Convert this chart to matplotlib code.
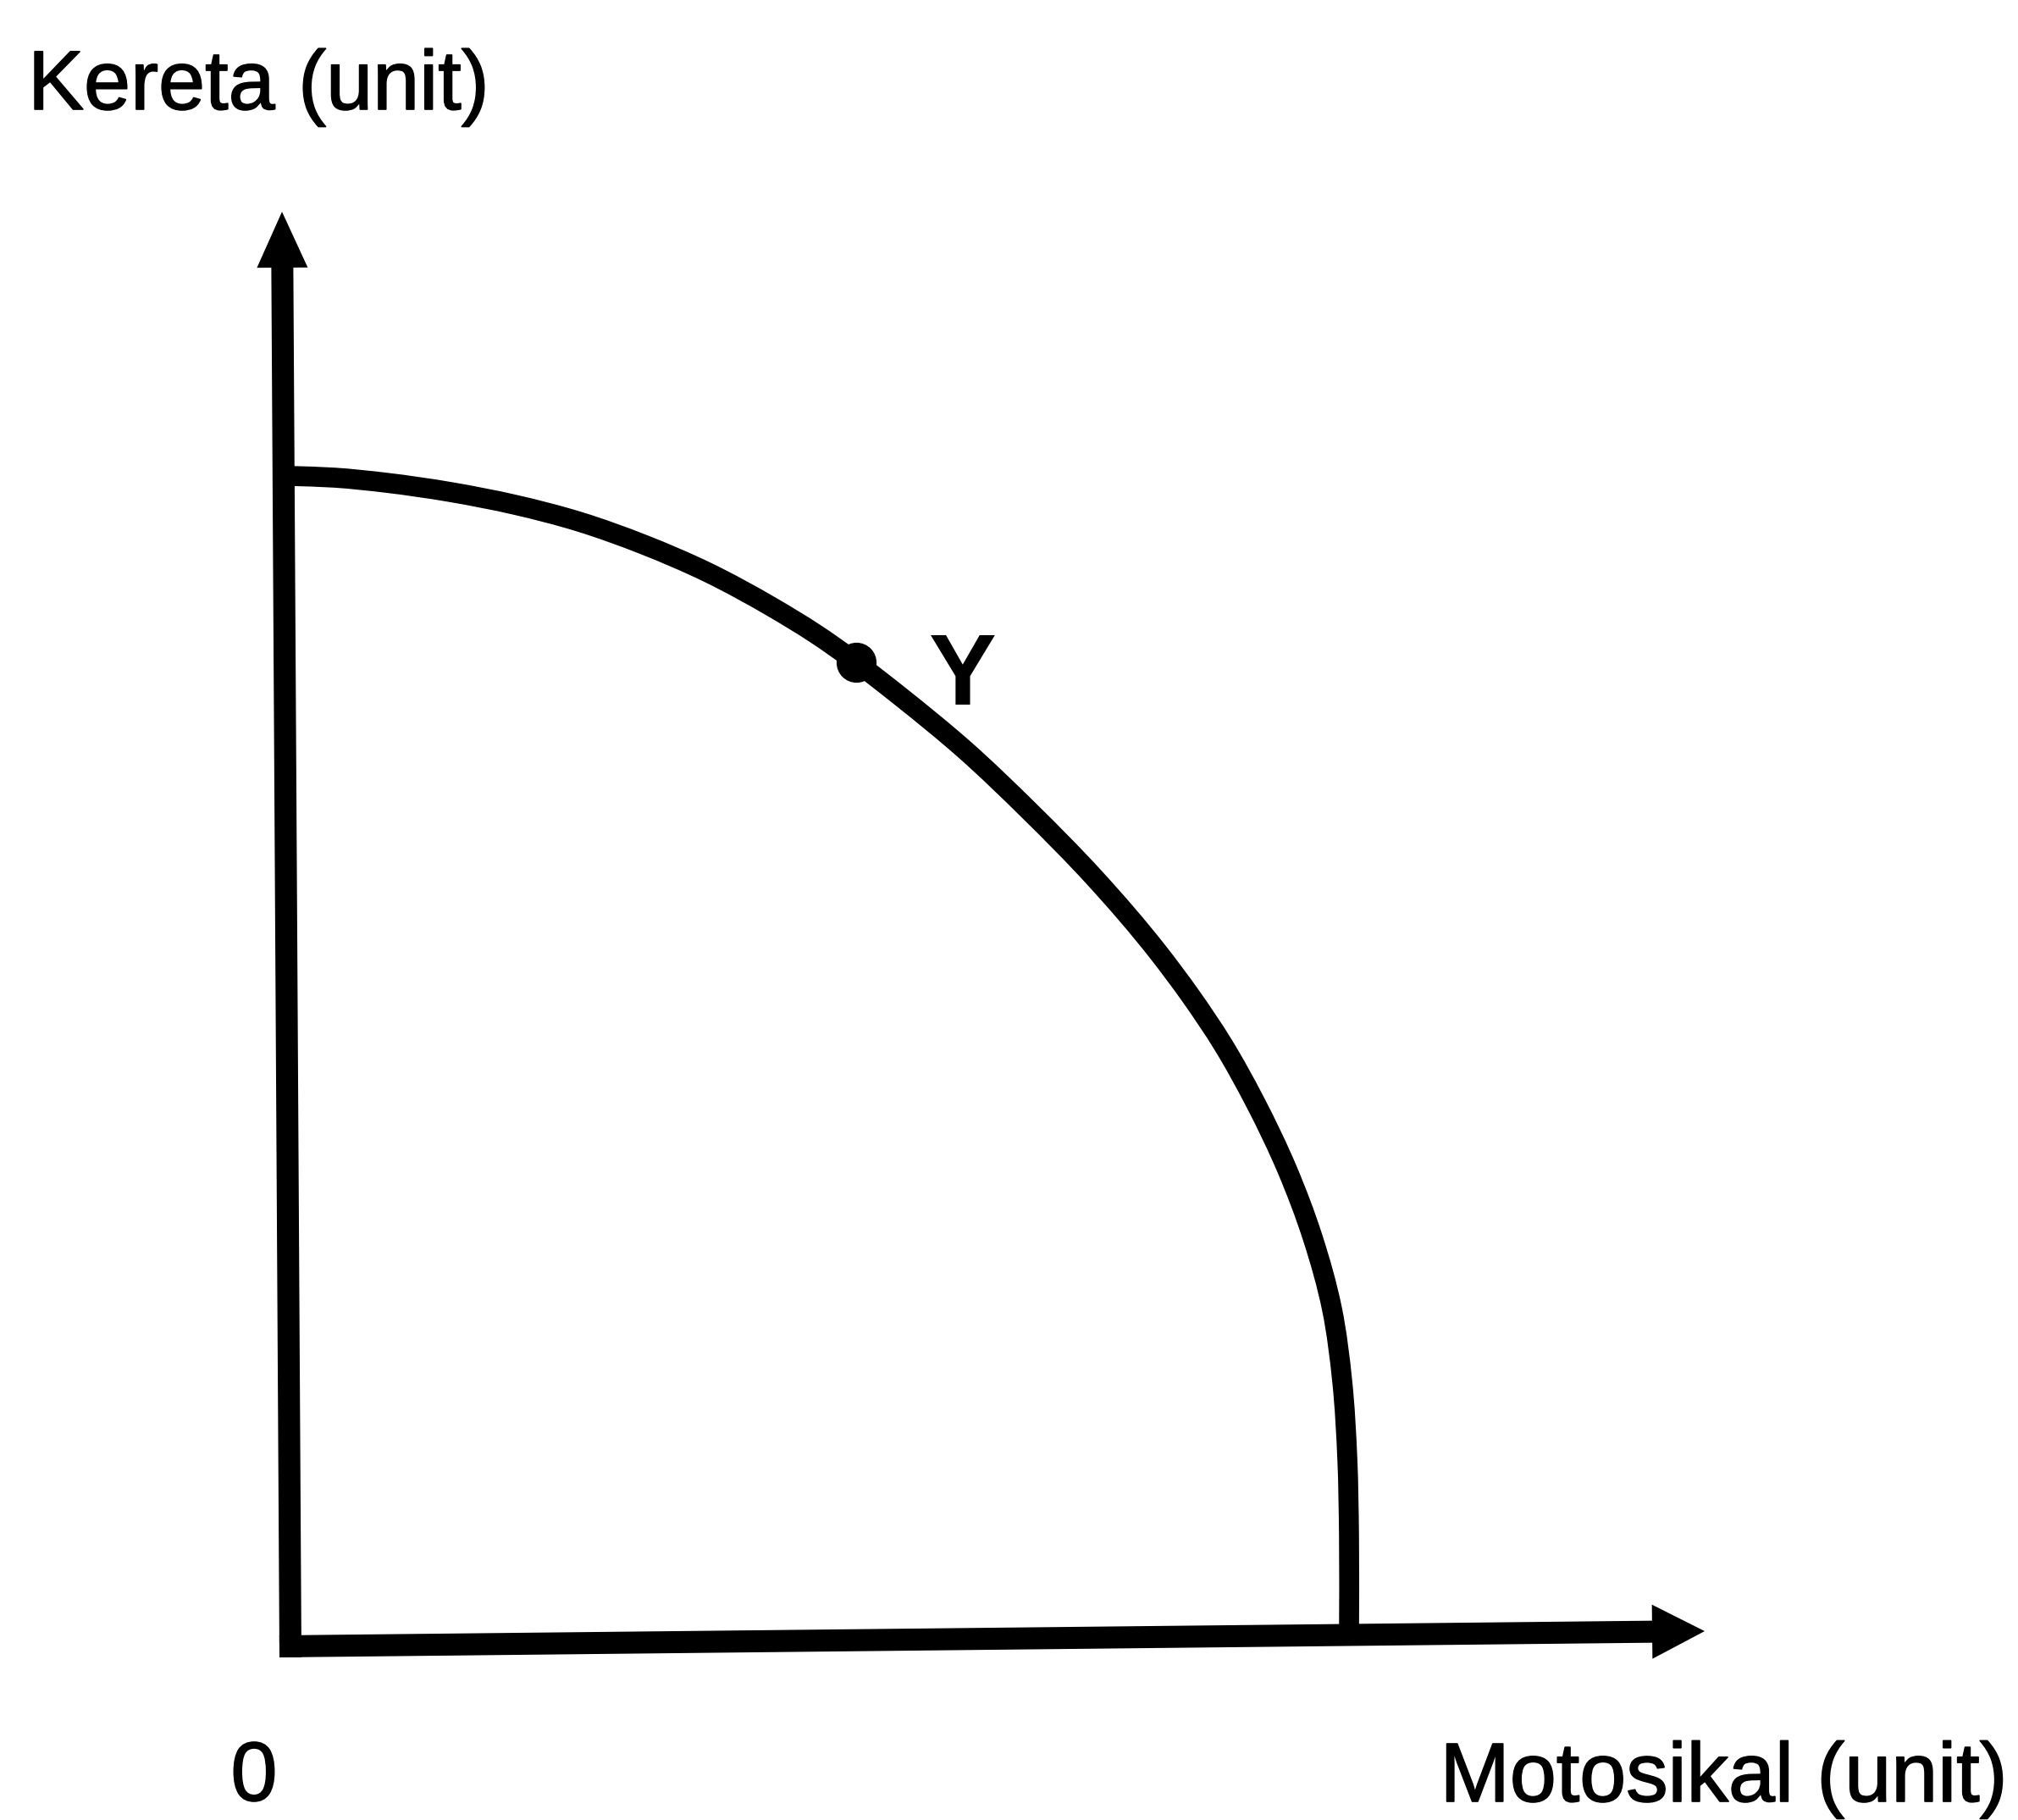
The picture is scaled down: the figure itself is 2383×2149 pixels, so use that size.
import matplotlib
matplotlib.use("Agg")
import matplotlib.pyplot as plt
import matplotlib.patheffects as pe
import numpy as np
from matplotlib.path import Path
from matplotlib.patches import PathPatch

# Production possibility curve (1 unit = 100 px of the original picture)
motosikal = [0.00, 0.52, 1.13, 1.89, 2.65, 3.41, 4.17, 4.93, 5.69, 6.18, 6.68, 7.21,
             7.97, 8.73, 9.49, 10.25, 10.63, 11.01, 11.39, 11.77, 12.07, 12.30, 12.42,
             12.48, 12.50, 12.50]
kereta = [13.82, 13.80, 13.74, 13.63, 13.48, 13.28, 13.01, 12.68, 12.27, 11.97, 11.62, 11.21,
          10.58, 9.86, 9.08, 8.19, 7.68, 7.11, 6.43, 5.63, 4.83, 3.98, 3.13,
          2.22, 1.31, 0.11]

# Point Y on the curve
point_y = (6.68, 11.62)

# Axis arrow tips
x_tip = (16.70, 0.18)
y_tip = (-0.10, 16.94)

x_label = "Motosikal (unit)"
y_label = "Kereta (unit)"
origin_label = "0"
point_label = "Y"

fonts = ["Liberation Sans Narrow", "Liberation Sans", "DejaVu Sans"]
thick = [pe.withStroke(linewidth=1.2, foreground="black")]

fig = plt.figure(figsize=(23.83, 21.49), dpi=100)
ax = fig.add_axes([0, 0, 1, 1])
ax.set_xlim(-3.43, 20.40)
ax.set_ylim(-2.05, 19.44)
ax.axis("off")

# axes drawn as arrows
ax.arrow(-0.13, 0, x_tip[0] + 0.13, x_tip[1], width=0.26, head_width=0.64,
         head_length=0.62, length_includes_head=True, fc="black", ec="none")
ax.arrow(0, -0.13, y_tip[0], y_tip[1] + 0.13, width=0.26, head_width=0.60,
         head_length=0.66, length_includes_head=True, fc="black", ec="none")

# smooth curve through the read points (Bessel tangents, cubic Bezier)
p = np.column_stack([motosikal, kereta])
d = np.diff(p, axis=0)
seg = np.hypot(d[:, 0], d[:, 1])
s = d / seg[:, None]
m = np.zeros_like(p)
m[1:-1] = (seg[1:, None] * s[:-1] + seg[:-1, None] * s[1:]) / (seg[:-1] + seg[1:])[:, None]
m[0] = s[0]
m[-1] = s[-1]
verts = [p[0]]
codes = [Path.MOVETO]
for i in range(len(p) - 1):
    h = seg[i] / 3
    verts += [p[i] + m[i] * h, p[i + 1] - m[i + 1] * h, p[i + 1]]
    codes += [Path.CURVE4] * 3
ax.add_patch(PathPatch(Path(verts, codes), fill=False, ec="black", lw=17,
                       capstyle="butt", joinstyle="round"))
ax.plot(point_y[0], point_y[1], "o", color="black", markersize=33)

renderer = fig.canvas.get_renderer()


def fit_text(txt, target_w):
    # scale the font so the text spans the same width as in the picture
    w = txt.get_window_extent(renderer).width
    txt.set_fontsize(txt.get_fontsize() * target_w / w)


t1 = ax.text(-3.10, 18.15, y_label, ha="left", va="baseline", fontsize=80,
             family=fonts, path_effects=thick)
fit_text(t1, 545)
t2 = ax.text(20.28, -1.83, x_label, ha="right", va="baseline", fontsize=80,
             family=fonts, path_effects=thick)
fit_text(t2, 670)
ax.text(-0.43, -1.82, origin_label, ha="center", va="baseline",
        fontsize=t2.get_fontsize(), family=fonts, path_effects=thick)
ax.text(7.94, 11.12, point_label, ha="center", va="baseline", fontsize=86,
        fontweight="bold", family=fonts)

fig.savefig("out.png", dpi=100, facecolor="white")
